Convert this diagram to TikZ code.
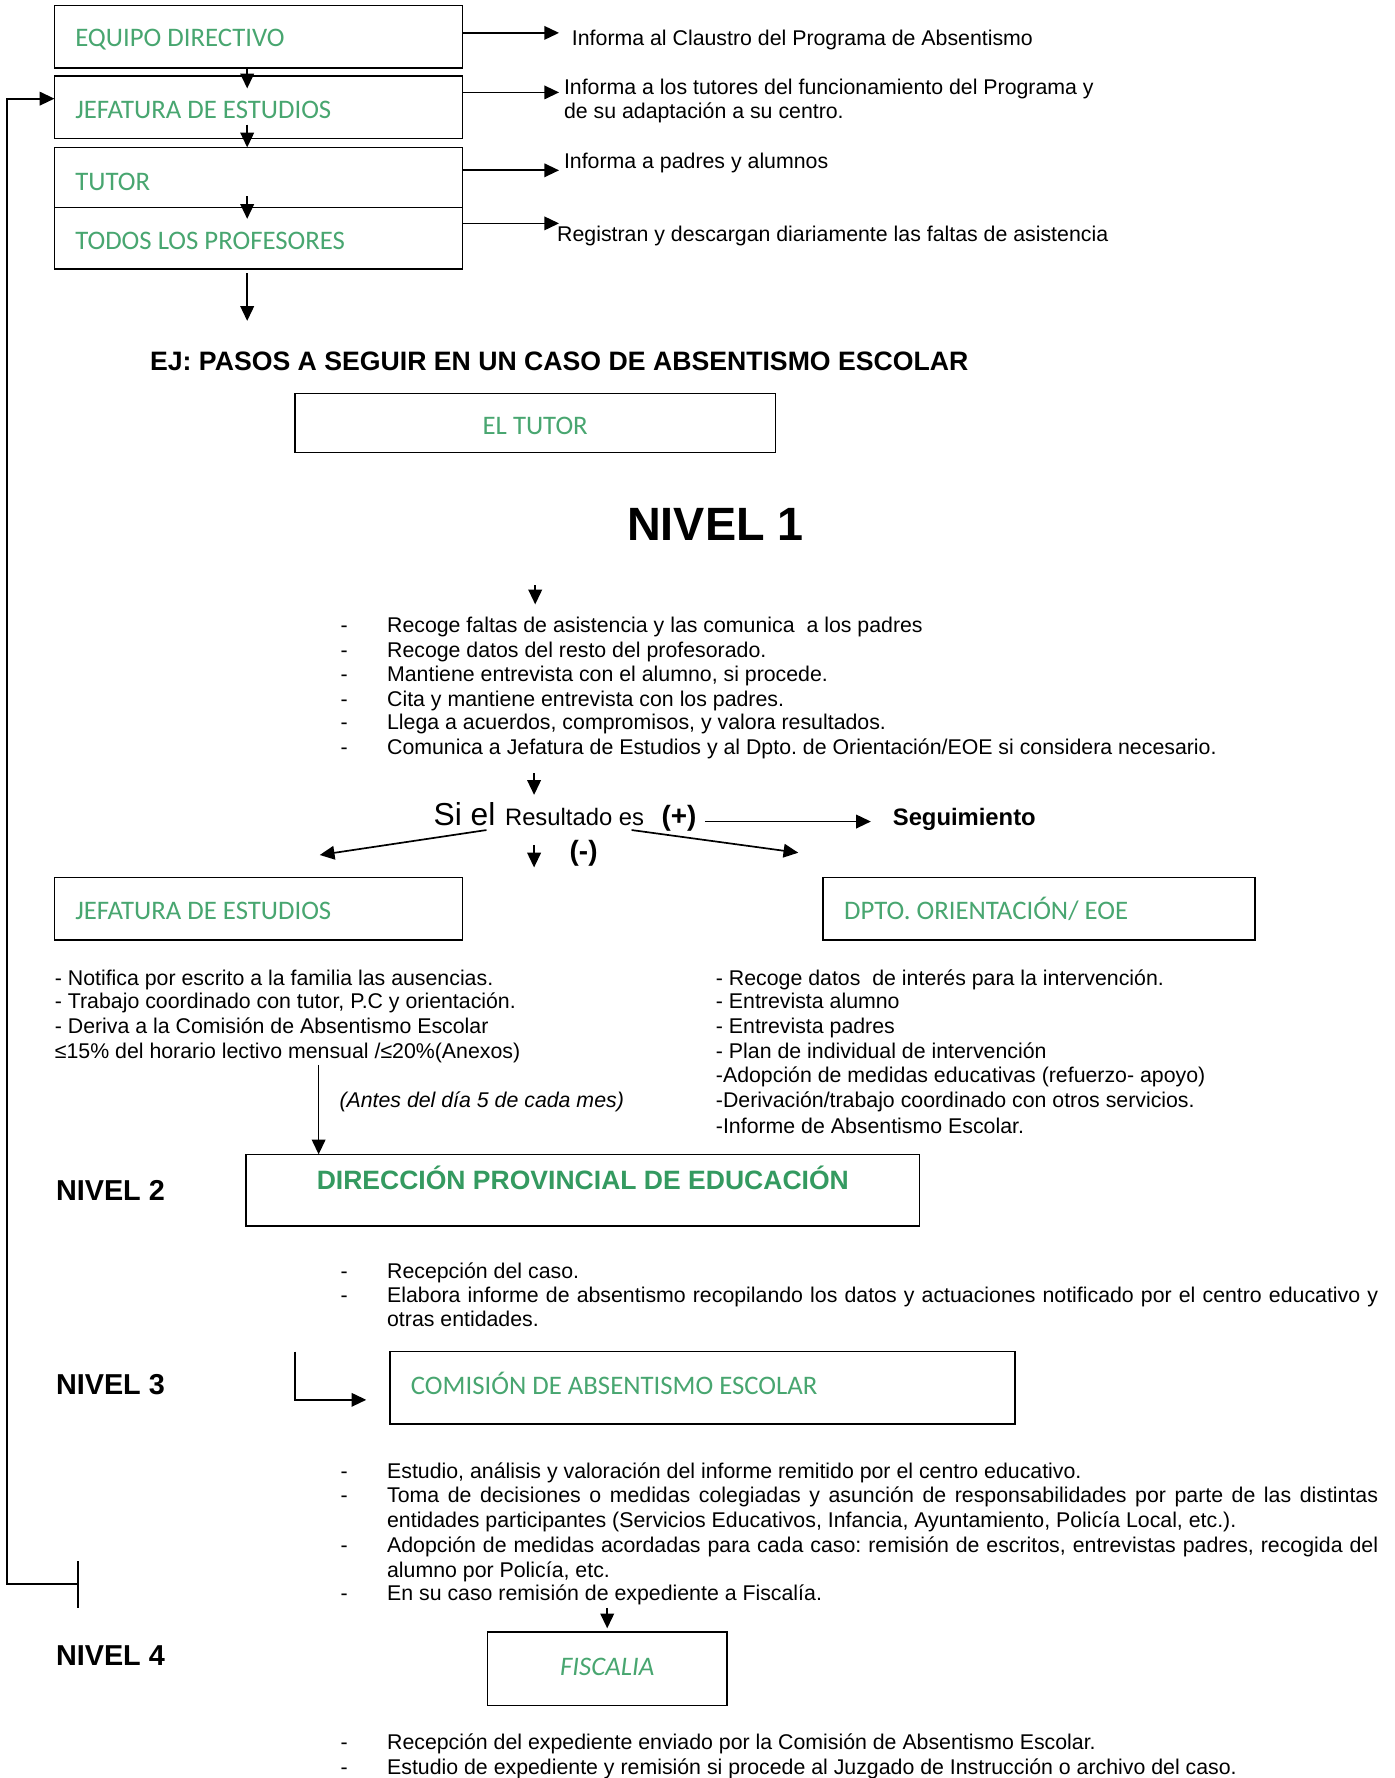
\documentclass[tikz,border=0pt]{standalone}
\usepackage{fontspec}
\setmainfont{Liberation Sans}
\newfontfamily\calfont{Carlito}
\usetikzlibrary{arrows.meta}
\definecolor{lblgreen}{RGB}{72,166,112}
\definecolor{dirgreen}{RGB}{52,154,96}
\newcommand{\bodyfs}{\fontsize{9.4}{10.85}\selectfont}
\frenchspacing
\begin{document}
\frenchspacing
\begin{tikzpicture}[x=0.5pt,y=-0.5pt,
  box/.style={draw, line width=0.7pt, inner sep=0pt, outer sep=0pt},
  lbl/.style={anchor=west, inner sep=0pt, font=\calfont\fontsize{11.8}{12}\selectfont, text=lblgreen, text height=7.6pt, text depth=0pt},
  txt/.style={anchor=west, inner sep=0pt, font=\bodyfs, text height=6.75pt, text depth=0pt},
  itxt/.style={txt, font=\bodyfs\itshape},
  nivel/.style={anchor=west, inner sep=0pt, font=\bfseries\fontsize{12.7}{14}\selectfont, text height=9.1pt, text depth=0pt},
  arr/.style={line width=0.75pt, -{Triangle[length=6.5pt,width=6pt]}},
  plain/.style={line width=0.75pt}]
\fill[white] (0,0) rectangle (1230,1568);
\useasboundingbox (0,0) rectangle (1230,1568);

% ---------- top boxes
\node[box, minimum width=180pt, minimum height=27.5pt] (b1) at (228,32.5) {};
\node[box, minimum width=180pt, minimum height=27.5pt] (b2) at (228,94.5) {};
\node[box, minimum width=180pt, minimum height=26.5pt] (b3) at (228,156.5) {};
\node[box, minimum width=180pt, minimum height=27pt] (b4) at (228,210) {};
\node[lbl] (l1) at (66,33) {EQUIPO DIRECTIVO};
\node[lbl] (l2) at (66,97) {JEFATURA DE ESTUDIOS};
\node[lbl] (l3) at (66,160) {TUTOR};
\node[lbl] (l4) at (66,212) {TODOS LOS PROFESORES};

\draw[arr] ([xshift=-5pt]b1.south) -- ([xshift=-5pt,yshift=-5.5pt]b2.north);
\draw[arr] ([xshift=-5pt,yshift=6pt]b2.south) -- ([xshift=-5pt]b3.north);
\draw[arr] ([xshift=-5pt,yshift=5pt]b3.south) -- ([xshift=-5pt,yshift=-5pt]b4.north);
\draw[arr] ([xshift=-5pt,yshift=-2pt]b4.south) -- ++(0,42);

\draw[arr] ([yshift=1.75pt]b1.east) -- ++(85,0);
\draw[arr] ([yshift=6.5pt]b2.east) -- ++(85,0);
\draw[arr] ([yshift=3.15pt]b3.east) -- ++(85,0);
\draw[arr] ([yshift=6.5pt]b4.east) -- ++(85,0);

\node[txt] (r1) at (504,33) {Informa al Claustro del Programa de Absentismo};
\node[txt] (r2a) at (497,77) {Informa a los tutores del funcionamiento del Programa y};
\node[txt] (r2b) at (497,97.5) {de su adaptación a su centro.};
\node[txt] (r3) at (497,142) {Informa a padres y alumnos};
\node[txt] (r4) at (491,206) {Registran y descargan diariamente las faltas de asistencia};

% ---------- feedback line
\coordinate (tickT) at (69,1377);
\coordinate (tickB) at (69,1418);
\coordinate (fbB) at (69,1397);
\draw[plain] (tickT) -- (tickB);
\draw[arr] (fbB) -- (6,1397) -- (6,87) -- ([yshift=3.75pt]b2.west);

% ---------- title and nivel 1
\node[anchor=west, inner sep=0pt, font=\bfseries\fontsize{11.75}{13}\selectfont, text height=8.4pt, text depth=0pt] (title) at (132,318) {EJ: PASOS A SEGUIR EN UN CASO DE ABSENTISMO ESCOLAR};
\node[box, minimum width=212pt, minimum height=26pt] (et) at (472,373) {};
\node[lbl, anchor=center] (etl) at (472,376) {EL TUTOR};
\node[inner sep=0pt, font=\bfseries\fontsize{20.6}{22}\selectfont, text height=14.75pt, text depth=0pt] (n1) at (631,462) {NIVEL 1};

\coordinate (a1) at (472,516);
\draw[arr] (a1) -- ++(0,17);

\foreach \yy/\nm in {551/d1,573/d2,594/d3,616/d4,637/d5,659/d6}{
  \node[txt] (\nm) at (300,\yy) {-};
}
\node[txt] (t1) at (341,551) {Recoge faltas de asistencia y las comunica\ \ a los padres};
\node[txt] (t2) at (341,573) {Recoge datos del resto del profesorado.};
\node[txt] (t3) at (341,594) {Mantiene entrevista con el alumno, si procede.};
\node[txt] (t4) at (341,616) {Cita y mantiene entrevista con los padres.};
\node[txt] (t5) at (341,637) {Llega a acuerdos, compromisos, y valora resultados.};
\node[txt] (t6) at (341,659) {Comunica a Jefatura de Estudios y al Dpto. de Orientación/EOE si considera necesario.};

\coordinate (a2) at (471,682);
\draw[arr] (a2) -- ++(0,19);

% ---------- Si el resultado
\node[anchor=base west, inner sep=0pt, font=\fontsize{14}{16}\selectfont] (siel) at (382,728) {Si el};
\node[anchor=base west, inner sep=0pt, font=\fontsize{10.5}{12}\selectfont] (res) at (445,728) {Resultado es};
\node[anchor=base west, inner sep=0pt, font=\bfseries\fontsize{12.3}{14}\selectfont] (plus) at (583,728) {(+)};
\node[anchor=base west, inner sep=0pt, font=\bfseries\fontsize{10.5}{12}\selectfont] (seg) at (787,728) {Seguimiento};
\node[anchor=base west, inner sep=0pt, font=\bfseries\fontsize{12.3}{14}\selectfont] (minus) at (502,759) {(-)};

\draw[arr] ([xshift=3.5pt,yshift=1.75pt]plus.base east) -- ([xshift=-9.5pt,yshift=1.75pt]seg.base west);
\coordinate (dl) at (429,732);
\coordinate (dr) at (557,732);
\coordinate (dd) at (471,745);
\draw[arr] (dl) -- (282,754);
\draw[arr] (dr) -- (704,752);
\draw[arr] (dd) -- ++(0,20);

% ---------- level 1 outcomes
\node[box, minimum width=180pt, minimum height=27.5pt] (j2) at (228,801.5) {};
\node[box, minimum width=190.5pt, minimum height=27.5pt] (dp) at (916.5,801.5) {};
\node[lbl] (j2l) at (66,803) {JEFATURA DE ESTUDIOS};
\node[lbl] (dpl) at (744,803) {DPTO. ORIENTACIÓN/ EOE};

\node[txt] (jl1) at (48,862) {- Notifica por escrito a la familia las ausencias.};
\node[txt] (jl2) at (48,883) {- Trabajo coordinado con tutor, P.C y orientación.};
\node[txt] (jl3) at (48,905) {- Deriva a la Comisión de Absentismo Escolar};
\node[txt] (jl4) at (48,927) {≤15\% del horario lectivo mensual /≤20\%(Anexos)};

\node[txt] (dl1) at (631,862) {- Recoge datos\ \ de interés para la intervención.};
\node[txt] (dl2) at (631,883) {- Entrevista alumno};
\node[txt] (dl3) at (631,905) {- Entrevista padres};
\node[txt] (dl4) at (631,927) {- Plan de individual de intervención};
\node[txt] (dl5) at (631,948) {-Adopción de medidas educativas (refuerzo- apoyo)};
\node[txt] (dl6) at (631,970) {-Derivación/trabajo coordinado con otros servicios.};
\node[txt] (dl7) at (631,993) {-Informe de Absentismo Escolar.};

\node[itxt] (antes) at (299,970) {(Antes del día 5 de cada mes)};

% ---------- nivel 2
\node[box, minimum width=297pt, minimum height=31.5pt] (dir) at (514,1049.5) {};
\node[inner sep=0pt, font=\bfseries\fontsize{11.7}{13}\selectfont, text=dirgreen, text height=8.4pt, text depth=0pt] (dirl) at (514,1041) {DIRECCIÓN PROVINCIAL DE EDUCACIÓN};
\coordinate (vtop) at (281,939);
\draw[arr] (vtop) -- (vtop |- dir.north);
\node[nivel] (nv2) at (49,1050) {NIVEL 2};

\node[txt] (e1d) at (300,1121) {-};
\node[txt] (e2d) at (300,1142) {-};
\node[txt] (e1) at (341,1121) {Recepción del caso.};
\node[txt] (e2) at (341,1142) {\makebox[437pt][s]{Elabora informe de absentismo recopilando los datos y actuaciones notificado por el centro educativo y}};
\node[txt] (e3) at (341,1163) {otras entidades.};

% ---------- nivel 3
\node[nivel] (nv3) at (49,1221) {NIVEL 3};
\node[box, minimum width=275.5pt, minimum height=32pt] (com) at (619.5,1224) {};
\node[lbl] (coml) at (362,1222) {COMISIÓN DE ABSENTISMO ESCOLAR};
\coordinate (c3) at (260,1192);
\draw[arr] (c3) |- ([xshift=-10.5pt,yshift=-5.25pt]com.west);

\foreach \yy/\nm in {1297/f1d,1318/f2d,1362/f3d,1405/f4d}{
  \node[txt] (\nm) at (300,\yy) {-};
}
\node[txt] (f1) at (341,1297) {Estudio, análisis y valoración del informe remitido por el centro educativo.};
\node[txt] (f2) at (341,1318) {\makebox[437pt][s]{Toma de decisiones o medidas colegiadas y asunción de responsabilidades por parte de las distintas}};
\node[txt] (f2b) at (341,1340) {entidades participantes (Servicios Educativos, Infancia, Ayuntamiento, Policía Local, etc.).};
\node[txt] (f3) at (341,1362) {\makebox[437pt][s]{Adopción de medidas acordadas para cada caso: remisión de escritos, entrevistas padres, recogida del}};
\node[txt] (f3b) at (341,1384) {alumno por Policía, etc.};
\node[txt] (f4) at (341,1405) {En su caso remisión de expediente a Fiscalía.};

% ---------- nivel 4
\node[nivel] (nv4) at (49,1460) {NIVEL 4};
\node[box, minimum width=105.5pt, minimum height=32.5pt] (fis) at (535.5,1471.5) {};
\node[lbl, anchor=center, font=\calfont\itshape\fontsize{11.8}{12}\selectfont] (fisl) at (535.5,1470) {FISCALIA};
\coordinate (fa) at (535.5,1418);
\draw[arr] (fa) -- ([yshift=1.5pt]fis.north);

\node[txt] (g1d) at (300,1536) {-};
\node[txt] (g2d) at (300,1558) {-};
\node[txt] (g1) at (341,1536) {Recepción del expediente enviado por la Comisión de Absentismo Escolar.};
\node[txt] (g2) at (341,1558) {Estudio de expediente y remisión si procede al Juzgado de Instrucción o archivo del caso.};
\end{tikzpicture}
\end{document}
